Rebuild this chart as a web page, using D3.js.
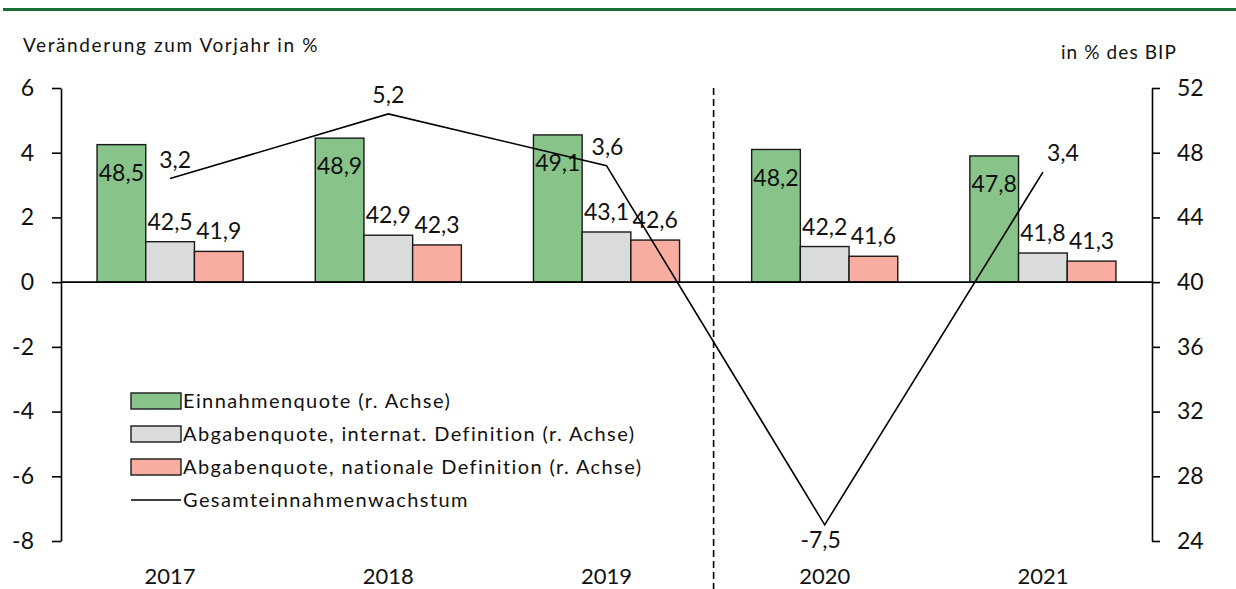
<!DOCTYPE html>
<html><head><meta charset="utf-8">
<script src="https://cdn.jsdelivr.net/npm/d3@7"></script>
<style>
body{margin:0;background:#fff;}
svg{display:block;font-family:Lato, "Noto Sans", sans-serif;}
</style></head>
<body><svg id="c" width="1236" height="589"></svg>
<script>
const years = ["2017","2018","2019","2020","2021"];
const einnahmenquote = [48.5, 48.9, 49.1, 48.2, 47.8];
const abgabenInternat = [42.5, 42.9, 43.1, 42.2, 41.8];
const abgabenNational = [41.9, 42.3, 42.6, 41.6, 41.3];
const wachstum = [3.2, 5.2, 3.6, -7.5, 3.4];
const leftTicks = [-8, -6, -4, -2, 0, 2, 4, 6];
const rightTicks = [24, 28, 32, 36, 40, 44, 48, 52];
const seriesNames = ["Einnahmenquote (r. Achse)", "Abgabenquote, internat. Definition (r. Achse)", "Abgabenquote, nationale Definition (r. Achse)"];
const lineName = "Gesamteinnahmenwachstum";
const colors = ["#88c48a", "#d9dcdb", "#f9ada0"];
// layout-only label nudges for the line labels
const lineLabelDx = [5, 0, 1, -4, 20];
const lineLabelBelow = [false, false, false, true, false];

const svg = d3.select("#c");
const L = 61, R = 1152, T = 88, B = 541;
const x = d3.scaleBand().domain(years).range([L, R]);
const yL = d3.scaleLinear().domain([-8, 6]).range([B, T]);
const yR = d3.scaleLinear().domain([24, 52]).range([B, T]);
const series = [einnahmenquote, abgabenInternat, abgabenNational];
const xs = d3.scaleBand().domain([0,1,2]).range([0, x.bandwidth()]).paddingInner(0).paddingOuter(0.74);

// top green rule
svg.append("line").attr("x1", 3).attr("x2", 1236).attr("y1", 9.5).attr("y2", 9.5)
  .attr("stroke", "#1b6e36").attr("stroke-width", 3);

// titles
svg.append("text").attr("x", 23).attr("y", 52).attr("font-size", 19).attr("fill", "#111")
  .attr("letter-spacing", 1.6).text("Veränderung zum Vorjahr in %");
svg.append("text").attr("x", 1177).attr("y", 59).attr("font-size", 19).attr("fill", "#111")
  .attr("letter-spacing", 1.1).attr("text-anchor", "end").text("in % des BIP");

// bars
series.forEach((vals, si) => {
  svg.append("g").selectAll("rect").data(vals).join("rect")
    .attr("x", (d, i) => x(years[i]) + xs(si))
    .attr("width", xs.bandwidth())
    .attr("y", d => yR(d))
    .attr("height", d => yR(40) - yR(d))
    .attr("fill", colors[si]).attr("stroke", "#1a1a1a").attr("stroke-width", 1.4);
});

// bar labels
const fmt = v => String(v).replace(".", ",");
series.forEach((vals, si) => {
  svg.append("g").selectAll("text").data(vals).join("text")
    .attr("x", (d, i) => x(years[i]) + xs(si) + xs.bandwidth() / 2)
    .attr("y", d => si === 0 ? yR(d) + 28 : yR(d) - 20)
    .attr("dy", "0.35em")
    .attr("text-anchor", "middle").attr("font-size", 23).attr("fill", "#111")
    .text(d => fmt(d));
});

// zero line
svg.append("line").attr("x1", L).attr("x2", R).attr("y1", yL(0)).attr("y2", yL(0))
  .attr("stroke", "#000").attr("stroke-width", 1.6);

// dashed separator
const sepX = x("2020") - 2;
svg.append("line").attr("x1", sepX).attr("x2", sepX).attr("y1", T).attr("y2", 589)
  .attr("stroke", "#000").attr("stroke-width", 1.6).attr("stroke-dasharray", "7,4");

// line
const line = d3.line().x((d, i) => x(years[i]) + x.bandwidth() / 2).y(d => yL(d));
svg.append("path").datum(wachstum).attr("d", line).attr("fill", "none")
  .attr("stroke", "#000").attr("stroke-width", 1.6);
svg.append("g").selectAll("text").data(wachstum).join("text")
  .attr("x", (d, i) => x(years[i]) + x.bandwidth() / 2 + lineLabelDx[i])
  .attr("y", (d, i) => yL(d) + (lineLabelBelow[i] ? 15 : -19))
  .attr("dy", "0.35em")
  .attr("text-anchor", "middle").attr("font-size", 23).attr("fill", "#111")
  .text(d => fmt(d));

// axes
const axL = svg.append("g").attr("transform", `translate(${L},0)`)
  .call(d3.axisLeft(yL).tickValues(leftTicks).tickSize(9).tickSizeOuter(0).tickPadding(18).tickFormat(d => String(d)));
const axR = svg.append("g").attr("transform", `translate(${R},0)`)
  .call(d3.axisRight(yR).tickValues(rightTicks).tickSize(8).tickSizeOuter(0).tickPadding(17).tickFormat(d => String(d)));
[axL, axR].forEach(a => {
  a.select(".domain").attr("stroke", "#000").attr("stroke-width", 1.6);
  a.selectAll(".tick line").attr("stroke", "#000").attr("stroke-width", 1.6);
  a.selectAll(".tick text").attr("font-size", 23).attr("fill", "#111").attr("font-family", "Lato, 'Noto Sans', sans-serif");
});

// category labels
svg.append("g").selectAll("text").data(years).join("text")
  .attr("x", d => x(d) + x.bandwidth() / 2).attr("y", 584)
  .attr("text-anchor", "middle").attr("font-size", 22).attr("fill", "#111").text(d => d);

// legend
const lg = svg.append("g");
const rowY = [401, 434, 467, 500];
seriesNames.forEach((n, i) => {
  lg.append("rect").attr("x", 131).attr("y", rowY[i] - 8).attr("width", 50).attr("height", 16)
    .attr("fill", colors[i]).attr("stroke", "#1a1a1a").attr("stroke-width", 1.4);
  lg.append("text").attr("x", 183).attr("y", rowY[i]).attr("dy", "0.35em")
    .attr("font-size", 20).attr("letter-spacing", 1.4).attr("fill", "#111").text(n);
});
lg.append("line").attr("x1", 131).attr("x2", 181).attr("y1", rowY[3]).attr("y2", rowY[3])
  .attr("stroke", "#000").attr("stroke-width", 1.6);
lg.append("text").attr("x", 183).attr("y", rowY[3]).attr("dy", "0.35em")
  .attr("font-size", 20).attr("letter-spacing", 1.4).attr("fill", "#111").text(lineName);
</script></body></html>
